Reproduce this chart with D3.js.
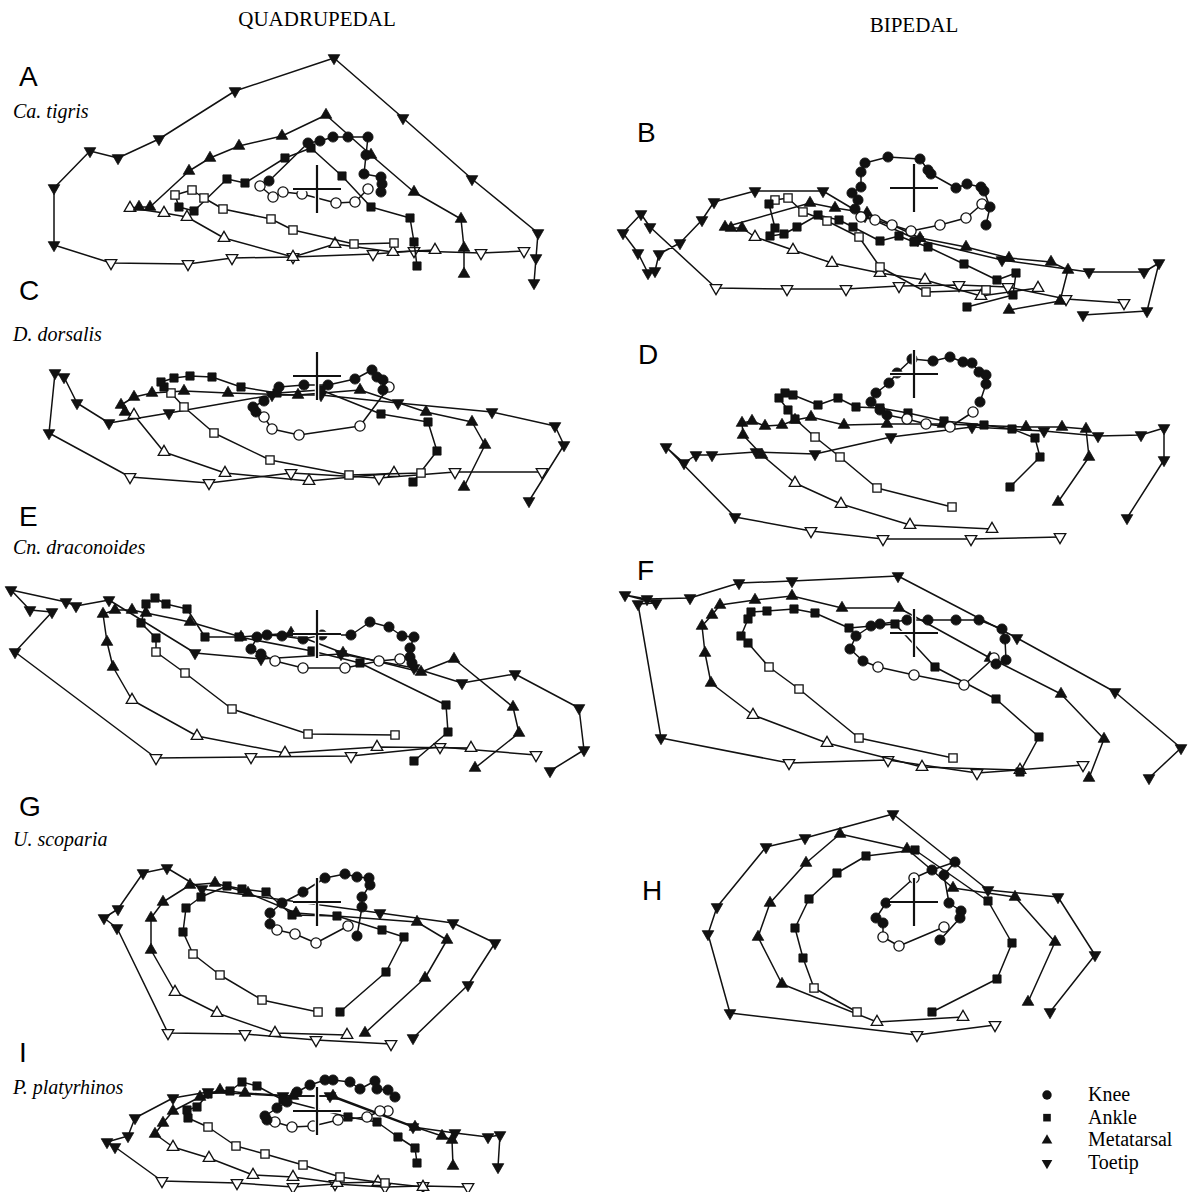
<!DOCTYPE html>
<html>
<head>
<meta charset="utf-8">
<script src="https://cdn.jsdelivr.net/npm/d3@7"></script>
<style>
body { margin: 0; background: #fff; }
</style>
</head>
<body>
<div id="chart"></div>
<script>
// digitized joint paths: [x forward, y up] relative to the hip, third value 1 = open marker (stance)
const A_toe = [[207,-62,1],[164,-64,1],[97,-62,1],[56,-65,1],[-24,-68,1],[-85,-69,1],[-129,-75,1],[-206,-74,1],
  [-263,-56,0],[-263,1,0],[-227,38,0],[-199,31,0],[-158,50,0],[-82,98,0],[17,131,0],[86,71,0],[155,10,0],[221,-44,0],[219,-69,0],[217,-94,0]];
const A_meta = [[118,-61,1],[76,-63,1],[18,-55,1],[-24,-68,1],[-93,-49,1],[-130,-28,1],[-153,-24,1],[-187,-19,1],
  [-178,-18,0],[-167,-18,0],[-128,18,0],[-107,31,0],[-78,43,0],[-35,53,0],[9,74,0],[54,34,0],[97,-3,0],[144,-30,0],[147,-59,0],[147,-85,0]];
const A_ankle = [[77,-54,1],[37,-55,1],[-24,-41,1],[-46,-30,1],[-94,-20,1],[-113,-9,1],[-125,-1,1],[-142,-6,1],
  [-138,-18,0],[-123,-22,0],[-90,10,0],[-72,6,0],[-32,31,0],[-6,41,0],[25,13,0],[54,-18,0],[93,-29,0],[97,-53,0],[100,-77,0]];
const A_knee = [[51,0,1],[38,-13,1],[19,-14,1],[-15,-5,1],[-34,-3,1],[-44,-8,1],[-57,3,1],
  [-48,8,0],[-9,46,0],[3,48,0],[16,52,0],[31,52,0],[51,52,0],[49,34,0],[47,15,0],[64,12,0],[65,5,0],[64,-3,0]];

const B_toe = [[210,-115,1],[152,-111,1],[94,-99,1],[45,-97,1],[-15,-98,1],[-68,-101,1],[-127,-101,1],[-198,-100,1],
  [-264,-39,0],[-273,-26,0],[-291,-45,0],[-276,-65,0],[-266,-85,0],[-259,-83,0],[-255,-66,0],[-234,-55,0],[-212,-32,0],[-200,-14,0],
  [-159,-3,0],[-91,-3,0],[-49,-28,0],[4,-52,0],[88,-72,0],[175,-84,0],[230,-84,0],[245,-75,0],[233,-123,0],[169,-127,0]];
const B_meta = [[124,-100,1],[67,-108,1],[11,-92,1],[-34,-85,1],[-82,-75,1],[-121,-62,1],[-159,-49,1],
  [-172,-40,0],[-183,-40,0],[-189,-39,0],[-104,-15,0],[-79,-20,0],[-47,-25,0],[6,-50,0],[52,-59,0],[95,-70,0],[137,-74,0],[154,-82,0],[146,-113,0],[95,-122,0]];
const B_ankle = [[72,-102,1],[12,-104,1],[-34,-79,1],[-55,-49,1],[-87,-33,1],[-111,-24,1],[-126,-10,1],[-139,-12,1],
  [-145,-16,0],[-139,-40,0],[-144,-48,0],[-130,-46,0],[-117,-39,0],[-96,-27,0],[-75,-32,0],[-61,-39,0],[-34,-53,0],[-15,-48,0],[0,-54,0],[14,-59,0],
  [50,-76,0],[83,-92,0],[102,-85,0],[99,-107,0],[53,-119,0]];
const B_knee = [[68,-16,1],[52,-30,1],[26,-37,1],[-3,-43,1],[-22,-37,1],[-39,-32,1],[-53,-29,1],
  [-59,-21,0],[-56,-12,0],[-62,-5,0],[-53,1,0],[-53,16,0],[-49,25,0],[-26,31,0],[6,29,0],[14,18,0],[17,14,0],[42,0,0],[53,4,0],[67,1,0],[70,-3,0],[76,-19,0],[72,-37,0]];

const C_toe = [[225,-96,1],[138,-96,1],[62,-102,1],[-26,-97,1],[-108,-107,1],[-187,-101,1],
  [-268,-57,0],[-262,3,0],[-253,-1,0],[-240,-27,0],[-208,-47,0],[-148,-37,0],[-45,-19,0],[4,-19,0],[81,-27,0],[175,-36,0],[238,-50,0],[247,-69,0],[212,-125,0]];
const C_meta = [[77,-97,1],[-8,-105,1],[-92,-97,1],[-153,-76,1],[-183,-39,1],
  [-192,-36,0],[-196,-29,0],[-183,-21,0],[-165,-17,0],[-133,-15,0],[-89,-17,0],[-19,-19,0],[43,-14,0],[109,-36,0],[155,-46,0],[168,-69,0],[147,-111,0]];
const C_ankle = [[104,-97,1],[32,-99,1],[-47,-84,1],[-103,-57,1],[-133,-31,1],[-146,-17,1],
  [-153,-11,0],[-156,-6,0],[-143,-2,0],[-127,0,0],[-105,-1,0],[-76,-11,0],[-40,-17,0],[4,-14,0],[64,-38,0],[111,-46,0],[120,-75,0],[96,-106,0]];
const C_knee = [[72,-11,1],[43,-50,1],[-18,-59,1],[-45,-53,1],[-53,-41,1],
  [-61,-36,0],[-64,-31,0],[-53,-25,0],[-38,-11,0],[-13,-9,0],[11,-9,0],[38,-3,0],[55,6,0],[60,-1,0],[66,-4,0],[66,-14,0]];

const D_toe = [[146,-163,1],[57,-165,1],[-31,-165,1],[-103,-157,1],
  [-179,-143,0],[-248,-73,0],[-230,-89,0],[-218,-81,0],[-202,-81,0],[-158,-78,0],[-99,-80,0],[-23,-63,0],[58,-53,0],[130,-57,0],[184,-62,0],[227,-61,0],[250,-54,0],[250,-86,0],[213,-144,0]];
const D_meta = [[78,-155,1],[-4,-151,1],[-73,-130,1],[-119,-109,1],
  [-152,-81,0],[-171,-61,0],[-172,-49,0],[-162,-47,0],[-149,-52,0],[-132,-51,0],[-119,-46,0],[-103,-43,0],[-70,-51,0],[-27,-50,0],[29,-50,0],[112,-53,0],[148,-53,0],[172,-55,0],[175,-83,0],[144,-128,0]];
const D_ankle = [[38,-133,1],[-37,-114,1],[-74,-83,1],[-99,-63,1],
  [-119,-45,0],[-126,-36,0],[-135,-24,0],[-129,-19,0],[-121,-21,0],[-96,-31,0],[-76,-24,0],[-58,-33,0],[-34,-34,0],[-6,-39,0],[30,-47,0],[70,-51,0],[98,-55,0],[121,-64,0],[126,-83,0],[96,-113,0]];
const D_knee = [[59,-38,1],[36,-53,1],[12,-50,1],[-7,-45,1],
  [-27,-41,0],[-34,-36,0],[-43,-28,0],[-38,-19,0],[-25,-9,0],[-17,1,0],[-2,15,0],[19,13,0],[36,17,0],[49,12,0],[58,11,0],[65,2,0],[72,-1,0],[72,-10,0],[66,-28,0]];

const E_toe = [[219,-121,1],[123,-113,1],[34,-122,1],[-66,-123,1],[-161,-124,1],
  [-302,-18,0],[-265,22,0],[-287,24,0],[-306,44,0],[-251,32,0],[-241,28,0],[-208,34,0],[-122,-19,0],[-56,-25,0],[24,-20,0],[97,-34,0],[145,-49,0],[198,-40,0],[262,-74,0],[267,-116,0],[233,-137,0]];
const E_meta = [[154,-114,1],[60,-113,1],[-32,-119,1],[-120,-102,1],[-185,-66,1],
  [-204,-33,0],[-210,-8,0],[-214,20,0],[-202,24,0],[-185,24,0],[-171,21,0],[-127,12,0],[-76,-3,0],[-26,1,0],[26,-19,0],[104,-38,0],[137,-25,0],[196,-73,0],[202,-99,0],[158,-134,0]];
const E_ankle = [[78,-101,1],[-9,-100,1],[-85,-75,1],[-132,-39,1],[-161,-18,1],
  [-161,-4,0],[-176,11,0],[-171,30,0],[-162,36,0],[-151,30,0],[-130,25,0],[-112,-3,0],[-78,-3,0],[-5,-17,0],[43,-29,0],[129,-71,0],[131,-98,0],[97,-127,0]];
const E_knee = [[83,-25,1],[62,-27,1],[28,-34,1],[-14,-34,1],[-42,-27,1],
  [-56,-20,0],[-66,-15,0],[-60,-3,0],[-50,-1,0],[-35,-2,0],[-14,-5,0],[5,-1,0],[34,-1,0],[53,12,0],[72,7,0],[85,-2,0],[97,-3,0],[93,-14,0],[93,-23,0],[95,-29,0]];

const F_toe = [[169,-132,1],[63,-140,1],[-26,-127,1],[-125,-130,1],
  [-253,-105,0],[-276,29,0],[-258,30,0],[-289,38,0],[-267,34,0],[-224,35,0],[-175,50,0],[-122,52,0],[-16,57,0],[103,-5,0],[201,-59,0],[267,-115,0],[235,-145,0]];
const F_meta = [[106,-137,1],[8,-134,1],[-87,-110,1],[-161,-82,1],
  [-203,-50,0],[-209,-20,0],[-212,7,0],[-202,18,0],[-194,28,0],[-159,33,0],[-122,37,0],[-72,25,0],[-15,25,0],[76,-25,0],[147,-61,0],[190,-106,0],[175,-145,0]];
const F_ankle = [[39,-125,1],[-55,-105,1],[-115,-56,1],[-145,-34,1],
  [-166,-10,0],[-173,-3,0],[-166,14,0],[-163,21,0],[-147,22,0],[-120,24,0],[-99,20,0],[-65,5,0],[-19,9,0],[21,-34,0],[82,-66,0],[125,-104,0],[106,-139,0]];
const F_knee = [[80,-25,1],[50,-52,1],[0,-42,1],[-36,-34,1],
  [-51,-28,0],[-64,-16,0],[-58,-3,0],[-43,7,0],[-34,9,0],[-7,13,0],[14,13,0],[42,13,0],[65,13,0],[88,4,0],[91,-6,0],[92,-27,0],[82,-31,0]];

const G_toe = [[74,-142,1],[-1,-138,1],[-72,-132,1],[-149,-131,1],
  [-200,-26,0],[-213,-16,0],[-199,-7,0],[-174,29,0],[-150,34,0],[-115,13,0],[63,-11,0],[136,-21,0],[178,-41,0],[151,-83,0],[96,-136,0]];
const G_meta = [[30,-133,1],[-42,-131,1],[-100,-111,1],[-142,-90,1],
  [-166,-48,0],[-166,-16,0],[-154,0,0],[-127,17,0],[-102,19,0],[-69,9,0],[-21,-11,0],[100,-20,0],[130,-38,0],[108,-76,0],[48,-131,0]];
const G_ankle = [[1,-110,1],[-55,-98,1],[-97,-73,1],[-124,-52,1],
  [-134,-30,0],[-131,-6,0],[-116,5,0],[-90,16,0],[-75,13,0],[-51,10,0],[-25,-13,0],[20,-14,0],[65,-28,0],[87,-35,0],[69,-70,0],[23,-110,0]];
const G_knee = [[31,-24,1],[-1,-41,1],[-22,-32,1],[-40,-28,1],
  [-47,-22,0],[-47,-11,0],[-35,-1,0],[-14,10,0],[8,24,0],[28,28,0],[40,25,0],[52,24,0],[53,17,0],[45,5,0],[45,-5,0],[40,-34,0]];

const H_toe = [[81,-123,1],[3,-133,1],
  [-184,-111,0],[-206,-32,0],[-197,-5,0],[-148,55,0],[-109,64,0],[-21,88,0],[74,12,0],[144,5,0],[181,-53,0],[136,-110,0]];
const H_meta = [[49,-115,1],[-37,-120,1],
  [-132,-82,0],[-156,-35,0],[-144,-1,0],[-108,39,0],[-74,68,0],[-7,53,0],[39,14,0],[101,5,0],[141,-40,0],[114,-100,0]];
const H_ankle = [[-57,-110,1],[-100,-86,1],
  [-111,-56,0],[-119,-26,0],[-105,3,0],[-77,29,0],[-48,46,0],[1,52,0],[74,1,0],[98,-41,0],[83,-77,0],[18,-110,0]];
const H_knee = [[30,-25,1],[-15,-44,1],[-31,-35,1],
  [-31,-21,0],[-38,-16,0],[-28,-1,0],[0,24,1],[18,32,0],[41,40,0],[30,27,0],[35,-1,0],[47,-9,0],[46,-16,0],[26,-38,0]];

const I_toe = [[151,-76,1],[106,-75,1],[68,-76,1],[18,-73,1],[-24,-76,1],[-80,-72,1],[-155,-70,1],
  [-202,-36,0],[-210,-31,0],[-189,-25,0],[-182,-7,0],[-144,13,0],[-109,19,0],[-34,15,0],[13,15,0],[96,-16,0],[138,-22,0],[171,-26,0],[183,-24,0],[181,-56,0]];
const I_meta = [[106,-76,1],[61,-71,1],[20,-72,1],[-24,-66,1],[-64,-64,1],[-108,-47,1],[-144,-36,1],
  [-162,-23,0],[-154,-12,0],[-144,0,0],[-117,14,0],[-97,21,0],[-72,18,0],[-24,15,0],[16,15,0],[98,-16,0],[125,-25,0],[135,-29,0],[136,-55,0]];
const I_ankle = [[68,-72,1],[23,-66,1],[-14,-54,1],[-52,-43,1],[-81,-35,1],[-109,-16,1],
  [-129,-7,0],[-130,1,0],[-120,4,0],[-109,17,0],[-87,20,0],[-75,29,0],[-60,25,0],[-34,11,0],[31,-6,0],[60,-11,0],[81,-26,0],[98,-37,0],[100,-52,0]];
const I_knee = [[71,0,1],[63,0,1],[50,-6,1],[21,-9,1],[-4,-15,1],[-25,-16,1],[-42,-11,1],
  [-50,-9,0],[-52,-5,0],[-40,3,0],[-30,9,0],[-20,19,0],[-7,26,0],[8,31,0],[16,31,0],[33,29,0],[43,22,0],[58,30,0],[60,22,0],[71,21,0],[78,14,0]];

const joints = ['Knee', 'Ankle', 'Metatarsal', 'Toetip'];
const columnTitles = ['QUADRUPEDAL', 'BIPEDAL'];

// panel layout: hip position on the page, letter and species name
const panels = [
  {letter: 'A', species: 'Ca. tigris',      hip: [317, 189],  lab: [19, 86],   sp: 118, data: [A_toe, A_meta, A_ankle, A_knee]},
  {letter: 'B', species: '',                hip: [914, 188],  lab: [637, 142], sp: 0,   data: [B_toe, B_meta, B_ankle, B_knee]},
  {letter: 'C', species: 'D. dorsalis',     hip: [317, 376],  lab: [19, 300],  sp: 341, data: [C_toe, C_meta, C_ankle, C_knee]},
  {letter: 'D', species: '',                hip: [914, 374],  lab: [638, 364], sp: 0,   data: [D_toe, D_meta, D_ankle, D_knee]},
  {letter: 'E', species: 'Cn. draconoides', hip: [317, 634],  lab: [19, 526],  sp: 554, data: [E_toe, E_meta, E_ankle, E_knee]},
  {letter: 'F', species: '',                hip: [914, 633],  lab: [637, 580], sp: 0,   data: [F_toe, F_meta, F_ankle, F_knee]},
  {letter: 'G', species: 'U. scoparia',     hip: [317, 902],  lab: [19, 816],  sp: 846, data: [G_toe, G_meta, G_ankle, G_knee]},
  {letter: 'H', species: '',                hip: [914, 902],  lab: [642, 900], sp: 0,   data: [H_toe, H_meta, H_ankle, H_knee]},
  {letter: 'I', species: 'P. platyrhinos',  hip: [317, 1111], lab: [19, 1062], sp: 1094, data: [I_toe, I_meta, I_ankle, I_knee]}
];

const width = 1192;
const height = 1192;
const svg = d3.select('#chart').append('svg')
  .attr('width', width)
  .attr('height', height)
  .style('display', 'block')
  .style('background', '#fff');

const serif = "'Liberation Serif', 'Times New Roman', serif";
const sans = "'Liberation Sans', Arial, Helvetica, sans-serif";

// marker shapes, in the order toetip, metatarsal, ankle, knee
const shapes = [
  {type: d3.symbolTriangle, size: 58, rot: 180},
  {type: d3.symbolTriangle, size: 58, rot: 0},
  {type: d3.symbolSquare, size: 68, rot: 0},
  {type: d3.symbolCircle, size: 82, rot: 0}
];

// column headings
svg.selectAll('text.col')
  .data(columnTitles)
  .enter().append('text')
  .attr('class', 'col')
  .attr('x', (d, i) => i === 0 ? 317 : 914)
  .attr('y', (d, i) => i === 0 ? 26 : 32)
  .attr('text-anchor', 'middle')
  .style('font-family', serif)
  .style('font-size', '21px')
  .text(d => d);

panels.forEach(p => {
  const g = svg.append('g');
  const x = d3.scaleLinear().domain([0, 100]).range([p.hip[0], p.hip[0] + 100]);
  const y = d3.scaleLinear().domain([0, 100]).range([p.hip[1], p.hip[1] - 100]);
  const line = d3.line().x(d => x(d[0])).y(d => y(d[1]));

  g.append('text')
    .attr('x', p.lab[0]).attr('y', p.lab[1])
    .style('font-family', sans)
    .style('font-size', '28px')
    .text(p.letter);
  if (p.species) {
    g.append('text')
      .attr('x', 13).attr('y', p.sp)
      .style('font-family', serif)
      .style('font-style', 'italic')
      .style('font-size', '20px')
      .text(p.species);
  }

  p.data.forEach((series, si) => {
    const s = shapes[si];
    g.append('path')
      .attr('d', line(series))
      .attr('fill', 'none')
      .attr('stroke', '#111')
      .attr('stroke-width', 1.5)
      .attr('stroke-linejoin', 'round');
    g.selectAll(null)
      .data(series)
      .enter().append('path')
      .attr('d', d3.symbol().type(s.type).size(s.size))
      .attr('transform', d => `translate(${x(d[0])},${y(d[1])}) rotate(${s.rot})`)
      .attr('fill', d => d[2] ? '#fff' : '#111')
      .attr('stroke', '#111')
      .attr('stroke-width', d => d[2] ? 1.3 : 0.8);
  });

  // hip crosshair
  const arm = 24;
  const cross = [[[-arm, 0], [arm, 0]], [[0, -arm], [0, arm]]];
  g.selectAll(null).data(cross).enter().append('path')
    .attr('d', d => line(d))
    .attr('stroke', '#fff').attr('stroke-width', 4.5);
  g.selectAll(null).data(cross).enter().append('path')
    .attr('d', d => line(d))
    .attr('stroke', '#111').attr('stroke-width', 2.2);
});

// legend
const legendShapes = [shapes[3], shapes[2], shapes[1], shapes[0]];
const legendY = d3.scalePoint().domain(joints).range([1095, 1163]);
const legend = svg.append('g');
legend.selectAll('path')
  .data(joints)
  .enter().append('path')
  .attr('d', (d, i) => d3.symbol().type(legendShapes[i].type).size(legendShapes[i].size * 0.85)())
  .attr('transform', (d, i) => `translate(1047,${legendY(d)}) rotate(${legendShapes[i].rot})`)
  .attr('fill', '#111');
legend.selectAll('text')
  .data(joints)
  .enter().append('text')
  .attr('x', 1088)
  .attr('y', d => legendY(d) + 6)
  .style('font-family', serif)
  .style('font-size', '20px')
  .text(d => d);
</script>
</body>
</html>
